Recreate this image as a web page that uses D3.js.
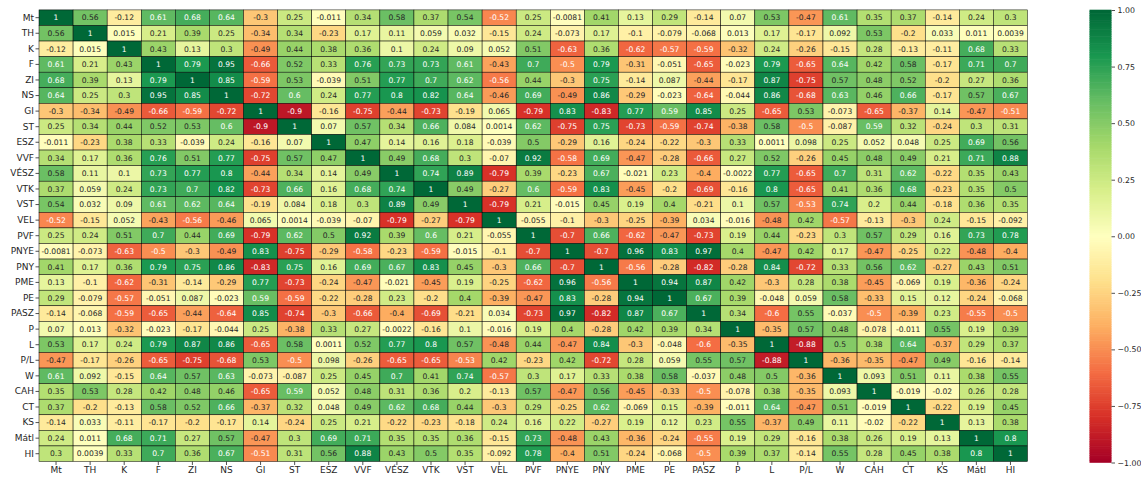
<!DOCTYPE html>
<html>
<head>
<meta charset="utf-8">
<script src="https://cdn.jsdelivr.net/npm/d3@7"></script>
<style>
  html, body { margin: 0; padding: 0; background: #fff; }
  svg { display: block; font-family: "DejaVu Sans", sans-serif; }
</style>
</head>
<body>
<svg id="chart" width="1141" height="477"></svg>
<script>
// ---------- DATA ----------
const labels = ["Mt","TH","K","F","ZI","NS","GI","ST","ESZ","VVF","VÉSZ","VTK","VST","VEL","PVF","PNYE","PNY","PME","PE","PASZ","P","L","P/L","W","CAH","CT","KS","Mátl","HI"];

const r_Mt   = [1, 0.56, -0.12, 0.61, 0.68, 0.64, -0.3, 0.25, -0.011, 0.34, 0.58, 0.37, 0.54, -0.52, 0.25, -0.0081, 0.41, 0.13, 0.29, -0.14, 0.07, 0.53, -0.47, 0.61, 0.35, 0.37, -0.14, 0.24, 0.3];
const r_TH   = [0.56, 1, 0.015, 0.21, 0.39, 0.25, -0.34, 0.34, -0.23, 0.17, 0.11, 0.059, 0.032, -0.15, 0.24, -0.073, 0.17, -0.1, -0.079, -0.068, 0.013, 0.17, -0.17, 0.092, 0.53, -0.2, 0.033, 0.011, 0.0039];
const r_K    = [-0.12, 0.015, 1, 0.43, 0.13, 0.3, -0.49, 0.44, 0.38, 0.36, 0.1, 0.24, 0.09, 0.052, 0.51, -0.63, 0.36, -0.62, -0.57, -0.59, -0.32, 0.24, -0.26, -0.15, 0.28, -0.13, -0.11, 0.68, 0.33];
const r_F    = [0.61, 0.21, 0.43, 1, 0.79, 0.95, -0.66, 0.52, 0.33, 0.76, 0.73, 0.73, 0.61, -0.43, 0.7, -0.5, 0.79, -0.31, -0.051, -0.65, -0.023, 0.79, -0.65, 0.64, 0.42, 0.58, -0.17, 0.71, 0.7];
const r_ZI   = [0.68, 0.39, 0.13, 0.79, 1, 0.85, -0.59, 0.53, -0.039, 0.51, 0.77, 0.7, 0.62, -0.56, 0.44, -0.3, 0.75, -0.14, 0.087, -0.44, -0.17, 0.87, -0.75, 0.57, 0.48, 0.52, -0.2, 0.27, 0.36];
const r_NS   = [0.64, 0.25, 0.3, 0.95, 0.85, 1, -0.72, 0.6, 0.24, 0.77, 0.8, 0.82, 0.64, -0.46, 0.69, -0.49, 0.86, -0.29, -0.023, -0.64, -0.044, 0.86, -0.68, 0.63, 0.46, 0.66, -0.17, 0.57, 0.67];
const r_GI   = [-0.3, -0.34, -0.49, -0.66, -0.59, -0.72, 1, -0.9, -0.16, -0.75, -0.44, -0.73, -0.19, 0.065, -0.79, 0.83, -0.83, 0.77, 0.59, 0.85, 0.25, -0.65, 0.53, -0.073, -0.65, -0.37, 0.14, -0.47, -0.51];
const r_ST   = [0.25, 0.34, 0.44, 0.52, 0.53, 0.6, -0.9, 1, 0.07, 0.57, 0.34, 0.66, 0.084, 0.0014, 0.62, -0.75, 0.75, -0.73, -0.59, -0.74, -0.38, 0.58, -0.5, -0.087, 0.59, 0.32, -0.24, 0.3, 0.31];
const r_ESZ  = [-0.011, -0.23, 0.38, 0.33, -0.039, 0.24, -0.16, 0.07, 1, 0.47, 0.14, 0.16, 0.18, -0.039, 0.5, -0.29, 0.16, -0.24, -0.22, -0.3, 0.33, 0.0011, 0.098, 0.25, 0.052, 0.048, 0.25, 0.69, 0.56];
const r_VVF  = [0.34, 0.17, 0.36, 0.76, 0.51, 0.77, -0.75, 0.57, 0.47, 1, 0.49, 0.68, 0.3, -0.07, 0.92, -0.58, 0.69, -0.47, -0.28, -0.66, 0.27, 0.52, -0.26, 0.45, 0.48, 0.49, 0.21, 0.71, 0.88];
const r_VESZ = [0.58, 0.11, 0.1, 0.73, 0.77, 0.8, -0.44, 0.34, 0.14, 0.49, 1, 0.74, 0.89, -0.79, 0.39, -0.23, 0.67, -0.021, 0.23, -0.4, -0.0022, 0.77, -0.65, 0.7, 0.31, 0.62, -0.22, 0.35, 0.43];
const r_VTK  = [0.37, 0.059, 0.24, 0.73, 0.7, 0.82, -0.73, 0.66, 0.16, 0.68, 0.74, 1, 0.49, -0.27, 0.6, -0.59, 0.83, -0.45, -0.2, -0.69, -0.16, 0.8, -0.65, 0.41, 0.36, 0.68, -0.23, 0.35, 0.5];
const r_VST  = [0.54, 0.032, 0.09, 0.61, 0.62, 0.64, -0.19, 0.084, 0.18, 0.3, 0.89, 0.49, 1, -0.79, 0.21, -0.015, 0.45, 0.19, 0.4, -0.21, 0.1, 0.57, -0.53, 0.74, 0.2, 0.44, -0.18, 0.36, 0.35];
const r_VEL  = [-0.52, -0.15, 0.052, -0.43, -0.56, -0.46, 0.065, 0.0014, -0.039, -0.07, -0.79, -0.27, -0.79, 1, -0.055, -0.1, -0.3, -0.25, -0.39, 0.034, -0.016, -0.48, 0.42, -0.57, -0.13, -0.3, 0.24, -0.15, -0.092];
const r_PVF  = [0.25, 0.24, 0.51, 0.7, 0.44, 0.69, -0.79, 0.62, 0.5, 0.92, 0.39, 0.6, 0.21, -0.055, 1, -0.7, 0.66, -0.62, -0.47, -0.73, 0.19, 0.44, -0.23, 0.3, 0.57, 0.29, 0.16, 0.73, 0.78];
const r_PNYE = [-0.0081, -0.073, -0.63, -0.5, -0.3, -0.49, 0.83, -0.75, -0.29, -0.58, -0.23, -0.59, -0.015, -0.1, -0.7, 1, -0.7, 0.96, 0.83, 0.97, 0.4, -0.47, 0.42, 0.17, -0.47, -0.25, 0.22, -0.48, -0.4];
const r_PNY  = [0.41, 0.17, 0.36, 0.79, 0.75, 0.86, -0.83, 0.75, 0.16, 0.69, 0.67, 0.83, 0.45, -0.3, 0.66, -0.7, 1, -0.56, -0.28, -0.82, -0.28, 0.84, -0.72, 0.33, 0.56, 0.62, -0.27, 0.43, 0.51];
const r_PME  = [0.13, -0.1, -0.62, -0.31, -0.14, -0.29, 0.77, -0.73, -0.24, -0.47, -0.021, -0.45, 0.19, -0.25, -0.62, 0.96, -0.56, 1, 0.94, 0.87, 0.42, -0.3, 0.28, 0.38, -0.45, -0.069, 0.19, -0.36, -0.24];
const r_PE   = [0.29, -0.079, -0.57, -0.051, 0.087, -0.023, 0.59, -0.59, -0.22, -0.28, 0.23, -0.2, 0.4, -0.39, -0.47, 0.83, -0.28, 0.94, 1, 0.67, 0.39, -0.048, 0.059, 0.58, -0.33, 0.15, 0.12, -0.24, -0.068];
const r_PASZ = [-0.14, -0.068, -0.59, -0.65, -0.44, -0.64, 0.85, -0.74, -0.3, -0.66, -0.4, -0.69, -0.21, 0.034, -0.73, 0.97, -0.82, 0.87, 0.67, 1, 0.34, -0.6, 0.55, -0.037, -0.5, -0.39, 0.23, -0.55, -0.5];
const r_P    = [0.07, 0.013, -0.32, -0.023, -0.17, -0.044, 0.25, -0.38, 0.33, 0.27, -0.0022, -0.16, 0.1, -0.016, 0.19, 0.4, -0.28, 0.42, 0.39, 0.34, 1, -0.35, 0.57, 0.48, -0.078, -0.011, 0.55, 0.19, 0.39];
const r_L    = [0.53, 0.17, 0.24, 0.79, 0.87, 0.86, -0.65, 0.58, 0.0011, 0.52, 0.77, 0.8, 0.57, -0.48, 0.44, -0.47, 0.84, -0.3, -0.048, -0.6, -0.35, 1, -0.88, 0.5, 0.38, 0.64, -0.37, 0.29, 0.37];
const r_PL   = [-0.47, -0.17, -0.26, -0.65, -0.75, -0.68, 0.53, -0.5, 0.098, -0.26, -0.65, -0.65, -0.53, 0.42, -0.23, 0.42, -0.72, 0.28, 0.059, 0.55, 0.57, -0.88, 1, -0.36, -0.35, -0.47, 0.49, -0.16, -0.14];
const r_W    = [0.61, 0.092, -0.15, 0.64, 0.57, 0.63, -0.073, -0.087, 0.25, 0.45, 0.7, 0.41, 0.74, -0.57, 0.3, 0.17, 0.33, 0.38, 0.58, -0.037, 0.48, 0.5, -0.36, 1, 0.093, 0.51, 0.11, 0.38, 0.55];
const r_CAH  = [0.35, 0.53, 0.28, 0.42, 0.48, 0.46, -0.65, 0.59, 0.052, 0.48, 0.31, 0.36, 0.2, -0.13, 0.57, -0.47, 0.56, -0.45, -0.33, -0.5, -0.078, 0.38, -0.35, 0.093, 1, -0.019, -0.02, 0.26, 0.28];
const r_CT   = [0.37, -0.2, -0.13, 0.58, 0.52, 0.66, -0.37, 0.32, 0.048, 0.49, 0.62, 0.68, 0.44, -0.3, 0.29, -0.25, 0.62, -0.069, 0.15, -0.39, -0.011, 0.64, -0.47, 0.51, -0.019, 1, -0.22, 0.19, 0.45];
const r_KS   = [-0.14, 0.033, -0.11, -0.17, -0.2, -0.17, 0.14, -0.24, 0.25, 0.21, -0.22, -0.23, -0.18, 0.24, 0.16, 0.22, -0.27, 0.19, 0.12, 0.23, 0.55, -0.37, 0.49, 0.11, -0.02, -0.22, 1, 0.13, 0.38];
const r_Matl = [0.24, 0.011, 0.68, 0.71, 0.27, 0.57, -0.47, 0.3, 0.69, 0.71, 0.35, 0.35, 0.36, -0.15, 0.73, -0.48, 0.43, -0.36, -0.24, -0.55, 0.19, 0.29, -0.16, 0.38, 0.26, 0.19, 0.13, 1, 0.8];
const r_HI   = [0.3, 0.0039, 0.33, 0.7, 0.36, 0.67, -0.51, 0.31, 0.56, 0.88, 0.43, 0.5, 0.35, -0.092, 0.78, -0.4, 0.51, -0.24, -0.068, -0.5, 0.39, 0.37, -0.14, 0.55, 0.28, 0.45, 0.38, 0.8, 1];

const rows = [r_Mt, r_TH, r_K, r_F, r_ZI, r_NS, r_GI, r_ST, r_ESZ, r_VVF, r_VESZ, r_VTK, r_VST, r_VEL, r_PVF,
              r_PNYE, r_PNY, r_PME, r_PE, r_PASZ, r_P, r_L, r_PL, r_W, r_CAH, r_CT, r_KS, r_Matl, r_HI];

const colorbarTicks = [-1, -0.75, -0.5, -0.25, 0, 0.25, 0.5, 0.75, 1];

// ---------- COLORMAP (RdYlGn, 256-entry LUT like matplotlib) ----------
const rdylgn = ["#a50026","#d73027","#f46d43","#fdae61","#fee08b","#ffffbf","#d9ef8b","#a6d96a","#66bd63","#1a9850","#006837"];
const baseScale = d3.scaleLinear()
  .domain(d3.range(11).map(i => i / 10))
  .range(rdylgn)
  .interpolate(d3.interpolateRgb)
  .clamp(true);
const vmin = -1, vmax = 1;
function cmap(v) {
  const t = (v - vmin) / (vmax - vmin);
  const idx = Math.max(0, Math.min(255, Math.floor(t * 256)));
  return baseScale(idx / 255);
}
function relLum(col) {
  const c = d3.rgb(col);
  const f = x => { x /= 255; return x <= 0.03928 ? x / 12.92 : Math.pow((x + 0.055) / 1.055, 2.4); };
  return 0.2126 * f(c.r) + 0.7152 * f(c.g) + 0.0722 * f(c.b);
}
const fmtAnnot = v => d3.format(".2~g")(v).replace("\u2212", "-");

// ---------- LAYOUT ----------
const svg = d3.select("#chart");
const x = d3.scaleBand().domain(labels).range([39, 1027.5]);
const y = d3.scaleBand().domain(labels).range([9.9, 461.5]);

const cells = [];
rows.forEach((row, i) => row.forEach((v, j) => cells.push({ r: labels[i], c: labels[j], v })));

const g = svg.append("g");
g.selectAll("rect.cell").data(cells).enter().append("rect")
  .attr("class", "cell")
  .attr("x", d => x(d.c))
  .attr("y", d => y(d.r))
  .attr("width", x.bandwidth())
  .attr("height", y.bandwidth())
  .attr("fill", d => cmap(d.v))
  .attr("stroke", "#000")
  .attr("stroke-width", 0.5);

g.selectAll("text.annot").data(cells).enter().append("text")
  .attr("class", "annot")
  .attr("x", d => x(d.c) + x.bandwidth() / 2)
  .attr("y", d => y(d.r) + y.bandwidth() / 2)
  .attr("dy", "0.36em")
  .attr("text-anchor", "middle")
  .attr("font-size", "7.6px")
  .attr("fill", d => relLum(cmap(d.v)) > 0.408 ? "#262626" : "#ffffff")
  .text(d => fmtAnnot(d.v));

// axes
const xAxis = svg.append("g")
  .attr("transform", `translate(0,${y.range()[1]})`)
  .call(d3.axisBottom(x).tickSize(3.5).tickPadding(2));
const yAxis = svg.append("g")
  .attr("transform", `translate(${x.range()[0]},0)`)
  .call(d3.axisLeft(y).tickSize(3.5).tickPadding(1.5));
[xAxis, yAxis].forEach(a => {
  a.select(".domain").remove();
  a.selectAll("line").attr("stroke", "#262626").attr("stroke-width", 0.8);
  a.selectAll("text").attr("font-size", "9px").attr("fill", "#262626")
    .attr("font-family", "DejaVu Sans, sans-serif");
});

// ---------- COLORBAR ----------
const cbX = 1089.5, cbW = 22;
const cbScale = d3.scaleLinear().domain([vmin, vmax]).range([462.5, 10]);
const steps = d3.range(256).map(i => vmin + (i + 0.5) / 256 * (vmax - vmin));
const stepH = (cbScale(vmin) - cbScale(vmax)) / 256;
svg.append("g").selectAll("rect").data(steps).enter().append("rect")
  .attr("x", cbX)
  .attr("y", d => cbScale(d) - stepH / 2 - 0.3)
  .attr("width", cbW)
  .attr("height", stepH + 0.6)
  .attr("fill", d => cmap(d));

const cbAxis = svg.append("g")
  .attr("transform", `translate(${cbX + cbW},0)`)
  .call(d3.axisRight(cbScale).tickValues(colorbarTicks).tickFormat(d3.format(".2f")).tickSize(3.5).tickPadding(2.5));
cbAxis.select(".domain").remove();
cbAxis.selectAll("line").attr("stroke", "#262626").attr("stroke-width", 0.8);
cbAxis.selectAll("text").attr("font-size", "7.8px").attr("fill", "#262626")
  .attr("font-family", "DejaVu Sans, sans-serif");
</script>
</body>
</html>
